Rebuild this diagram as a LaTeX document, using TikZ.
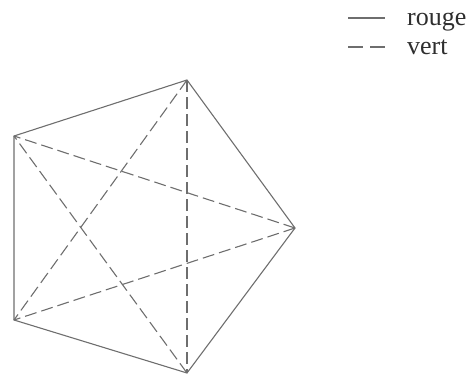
\documentclass[tikz,border=0pt]{standalone}
\usepackage{fontspec}
\setmainfont{Liberation Serif}
\usepackage{tikz}
\usetikzlibrary{positioning}
\definecolor{inkE}{HTML}{6E6E6E}
\definecolor{inkT}{HTML}{2E2E2E}
\tikzset{
  rouge/.style={inkE, line width=1.1pt},
  vert/.style={inkE, line width=1.1pt, dash pattern=on 12pt off 5pt},
  leglab/.style={font=\fontsize{26}{30}\selectfont, inner sep=0pt,
                 anchor=base west, text=inkT},
}
\begin{document}
\begin{tikzpicture}[x=1pt, y=-1pt]
  \useasboundingbox (0,0) rectangle (467,380);
  % sommets du pentagone
  \coordinate (A) at (187,80);
  \coordinate (B) at (295,228);
  \coordinate (C) at (187,373);
  \coordinate (D) at (14,320);
  \coordinate (E) at (14,136);
  % cotes
  \draw[rouge] (A) -- (B) -- (C) -- (D) -- (E) -- cycle;
  % diagonales
  \draw[vert] (A) -- (C);
  \draw[vert] (A) -- (D);
  \draw[vert] (B) -- (D);
  \draw[vert] (B) -- (E);
  \draw[vert] (C) -- (E);
  % legende
  \coordinate (r1) at (348,18);
  \coordinate (r2) at (385,18);
  \coordinate (v1) at (348,47);
  \coordinate (v2) at (385,47);
  \draw[rouge] (r1) -- (r2);
  \draw[vert, dash pattern=on 15pt off 7pt] (v1) -- (v2);
  \node[leglab] (lr) at (407,25) {rouge};
  \node[leglab] (lv) at (407,54) {vert};
\end{tikzpicture}
\end{document}
